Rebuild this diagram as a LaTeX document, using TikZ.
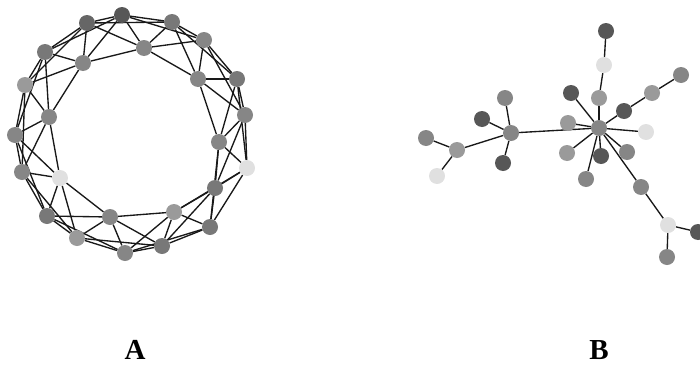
\documentclass[tikz,border=0pt]{standalone}
\usepackage{fontspec}
\setmainfont{Liberation Serif}
\pgfdeclarelayer{background}
\pgfsetlayers{background,main}
\definecolor{g5}{HTML}{575757}
\definecolor{g6}{HTML}{666666}
\definecolor{g7}{HTML}{787878}
\definecolor{g8}{HTML}{868686}
\definecolor{g9}{HTML}{9A9A9A}
\definecolor{gl}{HTML}{E0E0E0}
\begin{document}
\begin{tikzpicture}[x=1pt,y=-1pt,
  v/.style={circle,inner sep=0pt,minimum size=16pt,fill=#1},
  e/.style={draw=black!90,line width=1.35pt},
  lab/.style={inner sep=0pt,font=\bfseries\fontsize{29}{30}\selectfont}]
\useasboundingbox (0,0) rectangle (700,364);
\clip (0,0) rectangle (700,364);
% ---- Graph A: ring lattice, 25 nodes in ring order
\foreach \n/\x/\y/\c in {
  0/122/15/g5, 1/144/48/g8, 2/172/22/g7, 3/204/40/g8, 4/198/79/g8,
  5/237/79/g7, 6/245/115/g8, 7/219/142/g8, 8/247/168/gl, 9/215/188/g7,
  10/210/227/g7, 11/174/212/g9, 12/162/246/g7, 13/125/253/g8, 14/110/217/g8,
  15/77/238/g9, 16/47/216/g7, 17/60/178/gl, 18/22/172/g8, 19/15/135/g8,
  20/49/117/g8, 21/25/85/g9, 22/45/52/g7, 23/83/63/g8, 24/87/23/g6}
  {\node[v=\c] (r\n) at (\x,\y) {};}
\begin{pgfonlayer}{background}
\foreach \i in {0,...,24}{
  \foreach \d in {1,2,3}{
    \pgfmathtruncatemacro\j{mod(\i+\d,25)}
    \draw[e] (r\i) -- (r\j);
  }
}
\end{pgfonlayer}
% ---- Graph B: tree
\node[v=g8] (H) at (599,128) {};
\node[v=g8] (G) at (511,133) {};
\foreach \n/\x/\y/\c in {
  b1/606/31/g5, b2/604/65/gl, b3/599/98/g9, b4/571/93/g5, b5/624/111/g5,
  b6/652/93/g9, b7/681/75/g8, b8/646/132/gl, b9/627/152/g8, b10/601/156/g5,
  b11/567/153/g9, b12/586/179/g8, b13/568/123/g9, b14/641/187/g8,
  b15/668/225/gl, b16/698/232/g5, b17/667/257/g8,
  a1/505/98/g8, a2/482/119/g5, a3/503/163/g5, a4/457/150/g9,
  a5/426/138/g8, a6/437/176/gl}
  {\node[v=\c] (\n) at (\x,\y) {};}
\begin{pgfonlayer}{background}
\foreach \p/\q in {b1/b2, b2/b3, b3/H, H/b4, H/b5, b5/b6, b6/b7, H/b8, H/b9,
  H/b10, H/b11, H/b12, H/b13, H/b14, b14/b15, b15/b16, b15/b17,
  H/G, G/a1, G/a2, G/a3, G/a4, a4/a5, a4/a6}
  {\draw[e] (\p) -- (\q);}
\end{pgfonlayer}
% ---- Labels
\node[lab] (la) at (135,350) {A};
\node[lab] (lb) at (599,350) {B};
\end{tikzpicture}
\end{document}
